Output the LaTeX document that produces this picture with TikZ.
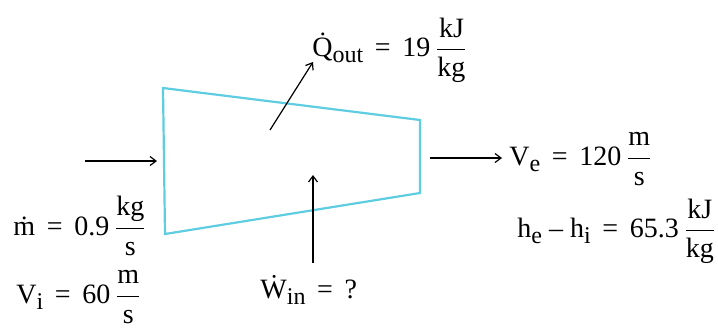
\documentclass[tikz,border=0pt]{standalone}
\usepackage{amsmath}
\usepackage{fontspec}
\setmainfont{Liberation Serif}
\usetikzlibrary{arrows.meta,positioning}
\definecolor{cvcyan}{RGB}{95,205,225}
\newcommand{\unitfr}[2]{$\dfrac{\text{#1}}{\text{#2}}$}
\newcommand{\sbs}[1]{\raisebox{-0.45ex}{\fontsize{12}{13}\selectfont #1}}
\tikzset{
  cvbox/.style={draw=cvcyan, line width=1.1pt, line join=miter},
  farr/.style={-{Straight Barb[length=3pt,width=4.5pt]}, line width=0.6pt},
  flab/.style={font=\fontsize{14}{16}\selectfont, inner sep=1pt}
}

\begin{document}
\begin{tikzpicture}[x=0.5pt,y=-0.5pt]
\useasboundingbox (0,0) rectangle (718,328);
% control volume
\draw[cvbox] (163,88) -- (420,120) -- (420,193) -- (165,234) -- cycle;
% arrow ends
\coordinate (in0) at (85,161);
\coordinate (in1) at (157,161);
\coordinate (out0) at (430,158);
\coordinate (out1) at (502,158);
\coordinate (q0) at (270,130);
\coordinate (q1) at (313,62);
\coordinate (w0) at (313,263);
\coordinate (w1) at (313,175);
\draw[farr] (in0)--(in1);
\draw[farr] (out0)--(out1);
\draw[farr] (q0)--(q1);
\draw[farr] (w0)--(w1);
% labels
\node[flab, anchor=west] (qlab) at (310,50) {\.{Q}\sbs{out} \,=\, 19\,\unitfr{kJ}{kg}};
\node[flab, anchor=west] (velab) at (507,159) {V\sbs{e} \,=\, 120\,\unitfr{m}{s}};
\node[flab, anchor=west] (hlab) at (515,231) {h\sbs{e} -- h\sbs{i} \,=\, 65.3\,\unitfr{kJ}{kg}};
\node[flab, anchor=west] (mlab) at (11,226) {\.{m} \,=\, 0.9\,\unitfr{kg}{s}};
\node[flab, anchor=west] (vilab) at (14,297) {V\sbs{i} \,=\, 60\,\unitfr{m}{s}};
\node[flab, anchor=west] (wlab) at (258,290) {\.{W}\sbs{in} \,=\, ?};
\end{tikzpicture}
\end{document}
